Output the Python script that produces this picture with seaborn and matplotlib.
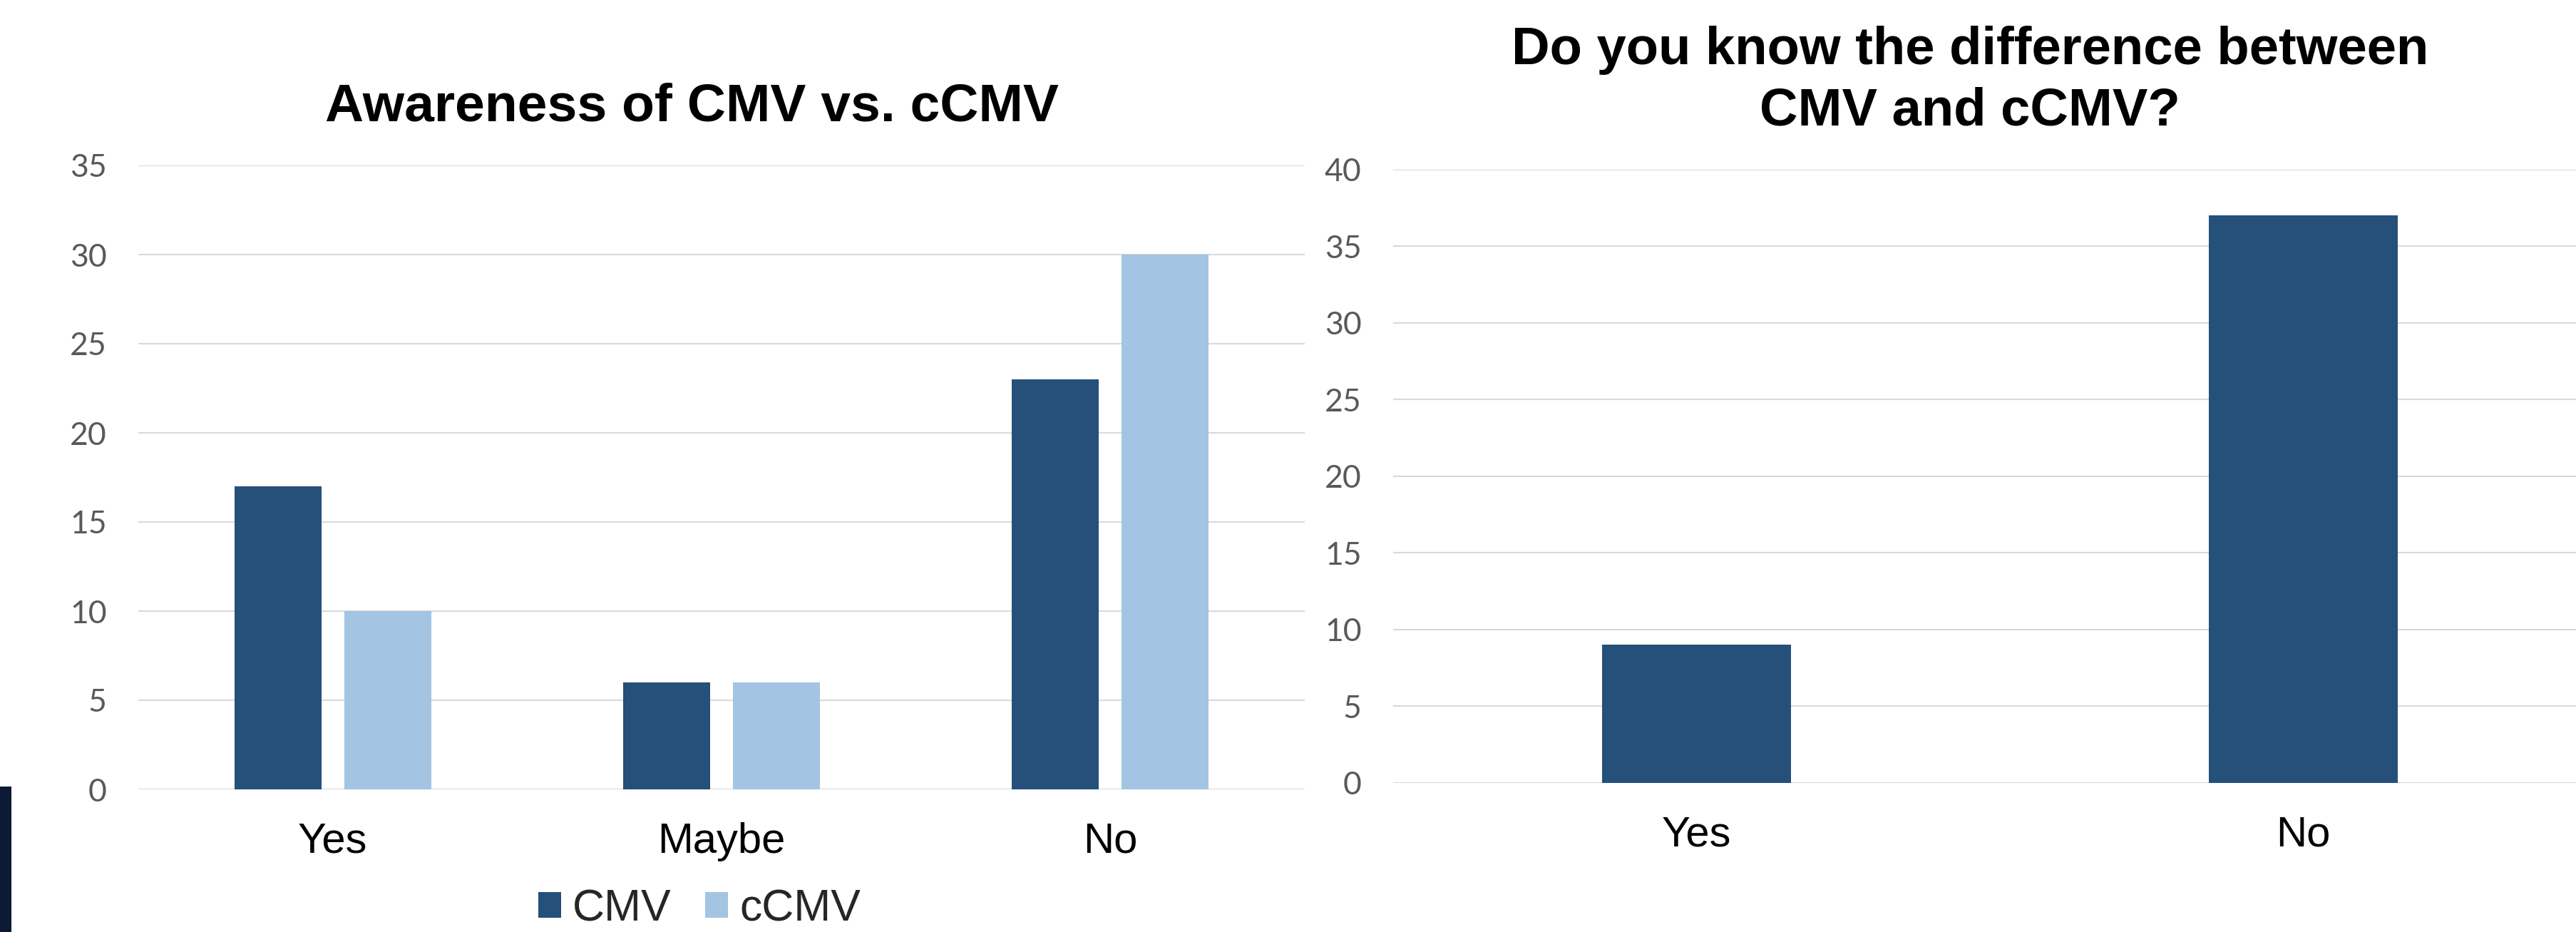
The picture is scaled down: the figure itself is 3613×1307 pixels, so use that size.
import matplotlib
matplotlib.use("Agg")
import matplotlib.pyplot as plt
from matplotlib.patches import Rectangle
import pandas as pd
import seaborn as sns

# Survey responses
awareness_answers = ["Yes", "Maybe", "No"]
cmv_counts = [17, 6, 23]
ccmv_counts = [10, 6, 30]
series_names = ["CMV", "cCMV"]

difference_answers = ["Yes", "No"]
difference_counts = [9, 37]

left_title = "Awareness of CMV vs. cCMV"
right_title_lines = ["Do you know the difference between", "CMV and cCMV?"]

DARK = "#24507A"
LIGHT = "#A3C4E2"
GRID = "#D9D9D9"
TICK_GRAY = "#595959"

sns.set_theme(style="whitegrid")
plt.rcParams["font.family"] = ["Liberation Sans", "DejaVu Sans"]

W, H = 3613, 1307
fig = plt.figure(figsize=(W / 100, H / 100), dpi=100)
fig.patch.set_facecolor("white")


def fx(px):
    return px / W


def fy(py):
    return 1 - py / H


ax1 = fig.add_axes([fx(194), fy(1107), fx(1830 - 194), (1107 - 232) / H])
ax2 = fig.add_axes([fx(1954), fy(1097.5), fx(3613 - 1954), (1097.5 - 238) / H])

# Grouped bars: CMV vs cCMV awareness
df1 = pd.DataFrame({
    "answer": awareness_answers * 2,
    "count": cmv_counts + ccmv_counts,
    "type": [series_names[0]] * len(awareness_answers) + [series_names[1]] * len(awareness_answers),
})
sns.barplot(data=df1, x="answer", y="count", hue="type", order=awareness_answers,
            hue_order=series_names, palette=[DARK, LIGHT], width=0.565, gap=0.208,
            saturation=1, linewidth=0, ax=ax1)
ax1.set_ylim(0, 35)
ax1.set_yticks(range(0, 36, 5))
ax1.set_xlim(-0.5, len(awareness_answers) - 0.5)

# Single-series bars: knowing the difference
df2 = pd.DataFrame({"answer": difference_answers, "count": difference_counts})
sns.barplot(data=df2, x="answer", y="count", order=difference_answers, color=DARK,
            width=0.311, saturation=1, linewidth=0, ax=ax2)
ax2.set_ylim(0, 40)
ax2.set_yticks(range(0, 41, 5))
ax2.set_xlim(-0.5, -0.5 + (3613 - 1954) / 851)

for ax in (ax1, ax2):
    ax.set_xlabel("")
    ax.set_ylabel("")
    ax.set_facecolor("white")
    for s in ax.spines.values():
        s.set_visible(False)
    ax.grid(False, axis="x")
    ax.grid(True, axis="y", color=GRID, linewidth=1.5)
    ax.set_axisbelow(True)
    ax.tick_params(axis="y", length=0, pad=32, labelsize=32, labelcolor=TICK_GRAY)
    ax.tick_params(axis="x", length=0, pad=33, labelsize=43, labelcolor="black")
    for lab in ax.get_yticklabels():
        lab.set_fontfamily(["Lato", "DejaVu Sans"])

# Legend under the grouped chart
sns.move_legend(ax1, "center", bbox_to_anchor=(fx(981), fy(1275)),
                bbox_transform=fig.transFigure, ncol=2, frameon=False, title=None,
                fontsize=45, handlelength=0.51, handleheight=0.51,
                handletextpad=0.26, columnspacing=0.76, borderpad=0)

# Titles
fig.text(fx(970), fy(170), left_title, ha="center", va="baseline",
         fontsize=54, fontweight="bold", color="black")
fig.text(fx(2763), fy(90), right_title_lines[0], ha="center", va="baseline",
         fontsize=53.5, fontweight="bold", color="black")
fig.text(fx(2763), fy(176), right_title_lines[1], ha="center", va="baseline",
         fontsize=53.5, fontweight="bold", color="black")

# Dark slide edge at the bottom-left corner
fig.patches.append(Rectangle((0, 0), fx(16), (H - 1103) / H, transform=fig.transFigure,
                             facecolor="#0C1B33", edgecolor="none", zorder=5))

fig.savefig("out.png", dpi=100, facecolor="white")
